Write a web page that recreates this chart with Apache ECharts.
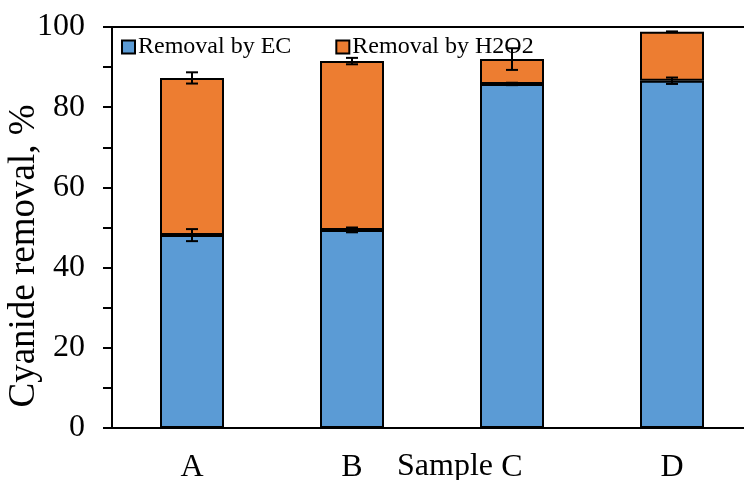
<!DOCTYPE html>
<html>
<head>
<meta charset="utf-8">
<script src="https://cdn.jsdelivr.net/npm/echarts@6/dist/echarts.min.js"></script>
<style>
  html, body { margin: 0; padding: 0; background: #fff; }
  #chart { width: 744px; height: 480px; }
</style>
</head>
<body>
<div id="chart"></div>
<script>
  // data
  var samples = ['A', 'B', 'C', 'D']
  var removalEC = [48.1, 49.4, 85.8, 86.6]
  var removalH2O2 = [39.2, 42.1, 6.2, 12.2]
  var errEC = [1.5, 0.6, 0.3, 0.8]
  var errTotal = [1.4, 0.8, 2.7, 0.1]
  var yTicks = [0, 20, 40, 60, 80, 100]

  var serif = "'Liberation Serif', 'Times New Roman', serif"

  // error bar points: [category index, centre value, +/- error]
  var ecErrPoints = samples.map(function (s, i) {
    return [i, removalEC[i], errEC[i]]
  })
  var totalErrPoints = samples.map(function (s, i) {
    return [i, removalEC[i] + removalH2O2[i], errTotal[i]]
  })

  function drawErr(params, api) {
    var x = api.value(0)
    var c = api.value(1)
    var e = api.value(2)
    var hi = api.coord([x, c + e])
    var lo = api.coord([x, c - e])
    var half = 6
    var st = { stroke: '#000', lineWidth: 2 }
    return {
      type: 'group',
      children: [
        { type: 'line', shape: { x1: hi[0], y1: hi[1], x2: lo[0], y2: lo[1] }, style: st },
        { type: 'line', shape: { x1: hi[0] - half, y1: hi[1], x2: hi[0] + half, y2: hi[1] }, style: st },
        { type: 'line', shape: { x1: lo[0] - half, y1: lo[1], x2: lo[0] + half, y2: lo[1] }, style: st }
      ]
    }
  }

  var chart = echarts.init(document.getElementById('chart'))
  var option = {
    animation: false,
    textStyle: { fontFamily: serif },
    legend: {
      left: 116,
      top: 30,
      itemWidth: 13,
      itemHeight: 13,
      itemGap: 44,
      icon: 'rect',
      textStyle: { fontFamily: serif, fontSize: 24, color: '#000', padding: [0, 0, 0, -2] },
      data: ['Removal by EC', 'Removal by H2O2']
    },
    grid: { left: 112, top: 27, right: -8, bottom: 52, outerBoundsMode: 'none' },
    xAxis: [{
      type: 'category',
      data: samples,
      axisLine: { lineStyle: { color: '#000', width: 2 } },
      axisTick: { alignWithLabel: true, length: 6, lineStyle: { color: '#000', width: 2 } },
      axisLabel: { color: '#000', fontFamily: serif, fontSize: 32, margin: 24 }
    }, {
      type: 'category',
      position: 'top',
      data: samples,
      axisLine: { show: true, lineStyle: { color: '#000', width: 2 } },
      axisTick: { show: false },
      axisLabel: { show: false }
    }],
    yAxis: {
      type: 'value',
      min: 0,
      max: 100,
      interval: 10,
      splitLine: { show: false },
      axisLine: { show: true, lineStyle: { color: '#000', width: 2 } },
      axisTick: { show: true, length: 9, lineStyle: { color: '#000', width: 2 } },
      axisLabel: {
        color: '#000',
        fontFamily: serif,
        fontSize: 32,
        margin: 27,
        formatter: function (v) {
          return yTicks.indexOf(v) >= 0 ? String(v) : ''
        }
      }
    },
    graphic: [{
      type: 'text',
      left: 397,
      top: 451,
      style: { text: 'Sample', font: '32px ' + serif, fill: '#000' }
    }, {
      type: 'text',
      x: 24,
      y: 256,
      rotation: Math.PI / 2,
      style: {
        text: 'Cyanide removal, %',
        font: '37px ' + serif,
        fill: '#000',
        align: 'center',
        verticalAlign: 'middle'
      }
    }],
    series: [{
      name: 'Removal by EC',
      type: 'bar',
      stack: 'total',
      barWidth: 64,
      data: removalEC,
      itemStyle: { color: '#5B9BD5', borderColor: '#000', borderWidth: 2 }
    }, {
      name: 'Removal by H2O2',
      type: 'bar',
      stack: 'total',
      barWidth: 64,
      data: removalH2O2,
      itemStyle: { color: '#ED7D31', borderColor: '#000', borderWidth: 2 }
    }, {
      type: 'custom',
      renderItem: drawErr,
      data: ecErrPoints,
      z: 10,
      encode: { x: 0, y: 1 }
    }, {
      type: 'custom',
      renderItem: drawErr,
      data: totalErrPoints,
      z: 10,
      encode: { x: 0, y: 1 }
    }]
  }
  chart.setOption(option)
</script>
</body>
</html>
